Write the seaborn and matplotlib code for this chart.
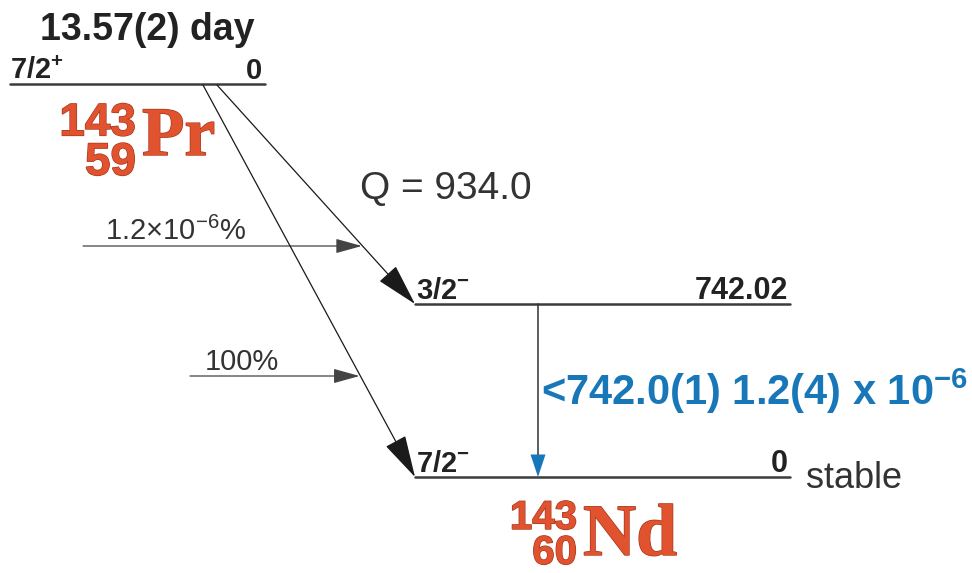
import matplotlib
matplotlib.use("Agg")
import matplotlib.pyplot as plt
import matplotlib.patheffects as pe
import seaborn as sns
import pandas as pd
import warnings
warnings.filterwarnings("ignore")

# 143Pr -> 143Nd beta- decay
parent_halflife = "13.57(2) day"
parent_spin = "7/2$^{\\mathbf{+}}$"
parent_level = "0"
parent_nuclide = ["143", "59", "Pr"]

level_energies = [742.02, 0.0]
level_labels = ["742.02", "0"]
level_spins = ["3/2$^{\\mathbf{-}}$", "7/2$^{\\mathbf{-}}$"]
branch_labels = ["1.2×10$^{-6}$%", "100%"]
q_value = 934.0

gamma_levels = [742.02, 0.0]
gamma_label = "<742.0(1) 1.2(4) x 10$^{\\mathbf{-6}}$"
daughter_nuclide = ["143", "60", "Nd"]
daughter_note = "stable"

sns.set_theme(style="white")
plt.rcParams['font.family'] = ['Liberation Sans', 'DejaVu Sans']
plt.rcParams['mathtext.fontset'] = 'custom'
plt.rcParams['mathtext.rm'] = 'Liberation Sans'
plt.rcParams['mathtext.bf'] = 'Liberation Sans:bold'
plt.rcParams['mathtext.it'] = 'Liberation Sans:italic'

DARK = '#222222'
LINE = '#3c3c3c'
RED = '#e1532f'
BLUE = '#1877b8'

fig = plt.figure(figsize=(9.72, 5.73), dpi=100)
ax = fig.add_axes([0, 0, 1, 1])

# layout (pixels)
ground_y = 477
px_per_kev = 173 / max(level_energies)
def ey(e):
    return ground_y - e * px_per_kev

par_y, par_x0, par_x1 = 84, 10, 265
lev_x0, lev_x1 = 415, 790

# levels
rows = [dict(level='parent', x=par_x0, y=par_y), dict(level='parent', x=par_x1, y=par_y)]
for e in level_energies:
    rows += [dict(level=str(e), x=lev_x0, y=ey(e)), dict(level=str(e), x=lev_x1, y=ey(e))]
lev_df = pd.DataFrame(rows)
sns.lineplot(data=lev_df, x='x', y='y', units='level', estimator=None, color=LINE,
             lw=1.8, sort=False, ax=ax, legend=False)
ax.set_xlim(0, 972)
ax.set_ylim(573, 0)
ax.axis('off')

# parent labels
ax.text(147, 40, parent_halflife, ha='center', va='baseline', fontsize=27,
        fontweight='bold', color=DARK)
ax.text(par_x0, 79, parent_spin, ha='left', va='baseline', fontsize=21,
        fontweight='bold', color=DARK)
ax.text(par_x1 - 3, 79, parent_level, ha='right', va='baseline', fontsize=21,
        fontweight='bold', color=DARK)

stroke = [pe.withStroke(linewidth=1.0, foreground='#a8361c')]
def nuclide(lbl, x, y_z, y_sym, s_num, s_sym, spacing):
    # y_z is the baseline of the lower (Z) line
    mass, z, sym = lbl
    ax.text(x - 6, y_z, f"{mass}\n{z}", ha='right', va='baseline', ma='right',
            fontsize=s_num, linespacing=spacing, fontweight='bold', color=RED,
            path_effects=stroke)
    ax.text(x, y_sym, sym, ha='left', va='baseline', fontsize=s_sym,
            fontweight='bold', color=RED, family=['Liberation Serif', 'DejaVu Serif'],
            path_effects=stroke)

nuclide(parent_nuclide, 142, 175, 155, 33, 50, 0.87)
nuclide(daughter_nuclide, 583, 564, 555, 29, 53, 0.9)

# Q value
ax.text(360, 199, f"Q = {q_value:.1f}", ha='left', va='baseline', fontsize=28, color='#333333')

# beta branches
beta_x0 = [217, 203]
feed_y = [246, 376]
feed_x0 = [83, 190]
label_x = [105, 205]
for e, bx, fy, fx, lx, lbl in zip(level_energies, beta_x0, feed_y, feed_x0, label_x, branch_labels):
    y1 = ey(e)
    ax.annotate("", xy=(lev_x0, y1), xytext=(bx, par_y + 1),
                arrowprops=dict(arrowstyle='-|>,head_length=1.35,head_width=0.36',
                                mutation_scale=20, lw=0.9, color='#1a1a1a',
                                shrinkA=0, shrinkB=0))
    # feeding arrow ends on the beta line
    tip_x = bx + (fy - par_y) / (y1 - par_y) * (lev_x0 - bx)
    ax.annotate("", xy=(tip_x - 1, fy), xytext=(fx, fy),
                arrowprops=dict(arrowstyle='-|>,head_length=0.9,head_width=0.25',
                                mutation_scale=18, lw=0.9, color='#444444',
                                shrinkA=0, shrinkB=0))
    ax.text(lx, fy - 6, lbl, ha='left', va='baseline', fontsize=21, color='#333333')

# daughter level labels
for e, lbl, sp in zip(level_energies, level_labels, level_spins):
    y = ey(e)
    ax.text(lev_x0 + 1, y - 5, sp, ha='left', va='baseline', fontsize=21,
            fontweight='bold', color=DARK)
    ax.text(lev_x1 - 2, y - 5, lbl, ha='right', va='baseline', fontsize=22,
            fontweight='bold', color=DARK)
ax.text(806, 488, daughter_note, ha='left', va='baseline', fontsize=26, color='#333333')

# gamma transition
gx = 538
ax.plot([gx, gx], [ey(gamma_levels[0]), ey(gamma_levels[1]) - 16], color='#333333', lw=1.1)
ax.annotate("", xy=(gx, ey(gamma_levels[1])), xytext=(gx, ey(gamma_levels[1]) - 17),
            arrowprops=dict(arrowstyle='-|>,head_length=0.9,head_width=0.3',
                            mutation_scale=18, lw=0, color=BLUE, shrinkA=0, shrinkB=0))
ax.text(541, 405, gamma_label, ha='left', va='baseline', fontsize=30,
        fontweight='bold', color=BLUE)

fig.savefig("out.png", dpi=100)
